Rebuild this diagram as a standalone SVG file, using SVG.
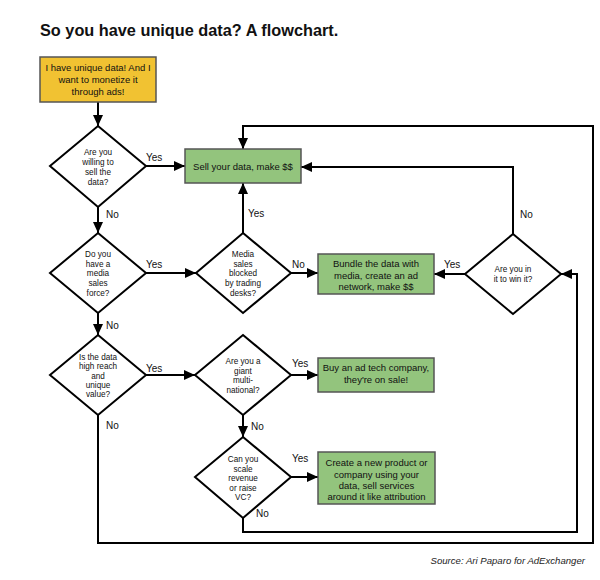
<svg xmlns="http://www.w3.org/2000/svg" width="600" height="580" viewBox="0 0 600 580">
<style>
  text { font-family: "Liberation Sans", Arial, sans-serif; fill: #111; }
  .title { font-size: 16.3px; font-weight: bold; }
  .box { stroke: #555; stroke-width: 1.5; }
  .green { fill: #93c47d; }
  .yellow { fill: #f1c232; }
  .dia { fill: #fff; stroke: #000; stroke-width: 2; stroke-linejoin: miter; }
  .bt { font-size: 9.5px; text-anchor: middle; }
  .dt { font-size: 8.2px; text-anchor: middle; }
  .lbl { font-size: 10px; }
  .conn path { fill: none; stroke: #000; stroke-width: 2; }
  .src { font-size: 9.6px; font-style: italic; text-anchor: end; fill: #222; }
</style>
<defs>
  <marker id="arr" markerUnits="userSpaceOnUse" markerWidth="12" markerHeight="10" refX="11" refY="5" orient="auto">
    <path d="M0,0 L11,5 L0,10 Z" fill="#000"/>
  </marker>
</defs>
<rect width="600" height="580" fill="#fff"/>
<text class="title" x="40" y="36">So you have unique data? A flowchart.</text>

<g class="conn">
  <path d="M98 102 V126" marker-end="url(#arr)"/>
  <path d="M146 166 H185" marker-end="url(#arr)"/>
  <path d="M98 207 V233" marker-end="url(#arr)"/>
  <path d="M146 273 H196" marker-end="url(#arr)"/>
  <path d="M243 233 V183" marker-end="url(#arr)"/>
  <path d="M291 273 H318" marker-end="url(#arr)"/>
  <path d="M98 313 V335" marker-end="url(#arr)"/>
  <path d="M146 375 H195" marker-end="url(#arr)"/>
  <path d="M291 375 H318" marker-end="url(#arr)"/>
  <path d="M243 415 V437" marker-end="url(#arr)"/>
  <path d="M291 477 H318" marker-end="url(#arr)"/>
  <path d="M243 518 V532 H577 V274 H561" marker-end="url(#arr)"/>
  <path d="M465 274 H434" marker-end="url(#arr)"/>
  <path d="M513 234 V167 H301" marker-end="url(#arr)"/>
  <path d="M98 415 V543 H593 V126 H243 V149" marker-end="url(#arr)"/>
</g>

<g id="start">
  <rect class="box yellow" x="40" y="57" width="116" height="45"/>
  <text class="bt" x="98" y="71">I have unique data! And I</text>
  <text class="bt" x="98" y="83">want to monetize it</text>
  <text class="bt" x="98" y="95">through ads!</text>
</g>

<g id="q-sell">
  <polygon class="dia" points="98,126 146,166 98,207 50,166"/>
  <text class="dt" x="98" y="155">Are you</text>
  <text class="dt" x="98" y="165">willing to</text>
  <text class="dt" x="98" y="175">sell the</text>
  <text class="dt" x="98" y="185">data?</text>
</g>

<g id="sell">
  <rect class="box green" x="185" y="149" width="116" height="34"/>
  <text class="bt" x="243" y="169.5">Sell your data, make $$</text>
</g>

<g id="q-force">
  <polygon class="dia" points="98,233 146,273 98,313 50,273"/>
  <text class="dt" x="98" y="257">Do you</text>
  <text class="dt" x="98" y="267">have a</text>
  <text class="dt" x="98" y="276">media</text>
  <text class="dt" x="98" y="286">sales</text>
  <text class="dt" x="98" y="296">force?</text>
</g>

<g id="q-blocked">
  <polygon class="dia" points="243,233 291,273 243,313 196,273"/>
  <text class="dt" x="243" y="257">Media</text>
  <text class="dt" x="243" y="267">sales</text>
  <text class="dt" x="243" y="276">blocked</text>
  <text class="dt" x="243" y="286">by trading</text>
  <text class="dt" x="243" y="296">desks?</text>
</g>

<g id="bundle">
  <rect class="box green" x="318" y="254" width="116" height="40"/>
  <text class="bt" x="376" y="267">Bundle the data with</text>
  <text class="bt" x="376" y="278.5">media, create an ad</text>
  <text class="bt" x="376" y="290">network, make $$</text>
</g>

<g id="q-win">
  <polygon class="dia" points="513,234 561,274 513,314 465,274"/>
  <text class="dt" x="513" y="272">Are you in</text>
  <text class="dt" x="513" y="282">it to win it?</text>
</g>

<g id="q-reach">
  <polygon class="dia" points="98,335 146,375 98,415 50,375"/>
  <text class="dt" x="98" y="360">Is the data</text>
  <text class="dt" x="98" y="369">high reach</text>
  <text class="dt" x="98" y="379">and</text>
  <text class="dt" x="98" y="388">unique</text>
  <text class="dt" x="98" y="397">value?</text>
</g>

<g id="q-giant">
  <polygon class="dia" points="243,335 291,375 243,415 195,375"/>
  <text class="dt" x="243" y="364">Are you a</text>
  <text class="dt" x="243" y="374">giant</text>
  <text class="dt" x="243" y="383">multi-</text>
  <text class="dt" x="243" y="393">national?</text>
</g>

<g id="buy">
  <rect class="box green" x="318" y="358" width="116" height="34"/>
  <text class="bt" x="376" y="371">Buy an ad tech company,</text>
  <text class="bt" x="376" y="383">they're on sale!</text>
</g>

<g id="q-scale">
  <polygon class="dia" points="243,437 291,477 243,518 195,477"/>
  <text class="dt" x="243" y="462">Can you</text>
  <text class="dt" x="243" y="472">scale</text>
  <text class="dt" x="243" y="481">revenue</text>
  <text class="dt" x="243" y="491">or raise</text>
  <text class="dt" x="243" y="500">VC?</text>
</g>

<g id="create">
  <rect class="box green" x="318" y="452" width="117" height="52"/>
  <text class="bt" x="376.5" y="466">Create a new product or</text>
  <text class="bt" x="376.5" y="477.5">company using your</text>
  <text class="bt" x="376.5" y="488.5">data, sell services</text>
  <text class="bt" x="376.5" y="499.5">around it like attribution</text>
</g>

<g id="labels">
  <text class="lbl" x="146" y="161">Yes</text>
  <text class="lbl" x="106" y="218">No</text>
  <text class="lbl" x="146" y="268">Yes</text>
  <text class="lbl" x="248" y="217">Yes</text>
  <text class="lbl" x="292" y="268">No</text>
  <text class="lbl" x="106" y="329">No</text>
  <text class="lbl" x="146" y="372">Yes</text>
  <text class="lbl" x="106" y="429">No</text>
  <text class="lbl" x="292" y="367">Yes</text>
  <text class="lbl" x="251" y="430">No</text>
  <text class="lbl" x="292" y="462">Yes</text>
  <text class="lbl" x="256" y="517">No</text>
  <text class="lbl" x="444" y="268">Yes</text>
  <text class="lbl" x="520" y="218">No</text>
</g>

<text class="src" x="585" y="564">Source: Ari Paparo for AdExchanger</text>
</svg>
